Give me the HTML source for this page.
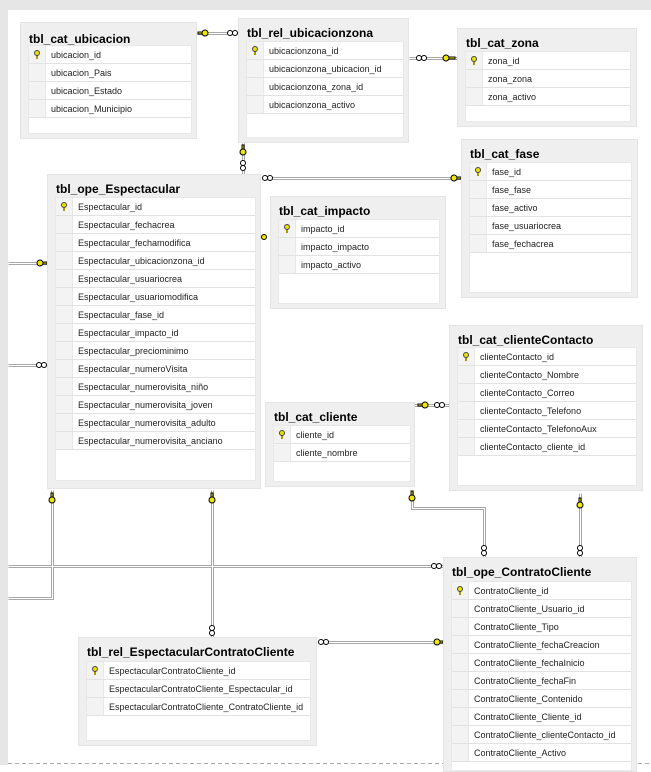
<!DOCTYPE html>
<html><head><meta charset="utf-8"><style>
body{margin:0;width:651px;height:765px;overflow:hidden;background:#fff;font-family:"Liberation Sans",sans-serif;position:relative}
.bg{position:absolute;left:0;top:0;width:651px;height:765px;background:#fff}
.lstrip{position:absolute;left:0;top:0;width:8px;height:765px;background:#e6e6e6}
.tstrip{position:absolute;left:0;top:0;width:651px;height:10px;background:#e6e6e6}
.t{position:absolute;background:#efefef;border:1px solid #e4e4e4;box-sizing:border-box}
.t .h{position:absolute;left:8px;top:7px;font-weight:bold;font-size:12px;color:#000;white-space:nowrap}
.t .in{position:absolute;background:#fff;border:1px solid #e8e8e8;box-sizing:border-box}
.r{height:18px;border-bottom:1px solid #e2e2e2;box-sizing:border-box;display:flex;align-items:center;font-size:9px;color:#222;white-space:nowrap}
.r .k{width:16px;height:17px;background:#f3f3f3;border-right:1px solid #e8e8e8;margin-right:5px;flex:none;position:relative}
.r .k.y::after{content:"";position:absolute;left:5px;top:4px;width:4px;height:4px;border:1px solid #444;border-radius:50%;background:#e8e000}
.r .k.y::before{content:"";position:absolute;left:7px;top:9px;width:2px;height:4px;background:#a89a00}
</style></head><body>
<div class="bg"></div><div class="lstrip"></div><div class="tstrip"></div>
<svg width="651" height="765" style="position:absolute;left:0;top:0">
<g transform="translate(0.5,0.5)">
<g fill="none" stroke="#a8a8a8" stroke-width="3">
<path d="M197 33H238"/><path d="M243 143V174"/><path d="M262 178H461"/><path d="M409 58H457"/>
<path d="M8 263H47"/><path d="M8 365H47"/>
<path d="M52 490V598H8"/><path d="M212 490V637"/>
<path d="M8 566H443"/><path d="M319 642H443"/>
<path d="M410 405H449"/><path d="M412 490V508H484V557"/><path d="M580 493V557"/>
</g>
<g fill="none" stroke="#fff" stroke-width="1">
<path d="M197 33H238"/><path d="M243 143V174"/><path d="M262 178H461"/><path d="M409 58H457"/>
<path d="M8 263H47"/><path d="M8 365H47"/>
<path d="M52 490V598H8"/><path d="M212 490V637"/>
<path d="M8 566H443"/><path d="M319 642H443"/>
<path d="M410 405H449"/><path d="M412 490V508H484V557"/><path d="M580 493V557"/>
</g>
</g>
<g fill="#f0e800" stroke="#000" stroke-width="1">
<circle cx="205" cy="33" r="3"/><rect x="198" y="32" width="4" height="2"/>
<circle cx="243" cy="152" r="3"/><rect x="242" y="145" width="2" height="4"/>
<circle cx="454" cy="178" r="3"/><rect x="457" y="177" width="4" height="2"/>
<circle cx="446" cy="58" r="3"/><rect x="449" y="57" width="6" height="2"/>
<circle cx="40" cy="263" r="3"/><rect x="43" y="262" width="4" height="2"/>
<circle cx="264" cy="237" r="2.5"/>
<circle cx="52" cy="500" r="3"/><rect x="51" y="493" width="2" height="4"/>
<circle cx="212" cy="500" r="3"/><rect x="211" y="493" width="2" height="4"/>
<circle cx="437" cy="642" r="3"/><rect x="440" y="641" width="3" height="2"/>
<circle cx="425" cy="405" r="3"/><rect x="418" y="404" width="4" height="2"/>
<circle cx="412" cy="498" r="3"/><rect x="411" y="491" width="2" height="4"/>
<circle cx="580" cy="505" r="3"/><rect x="579" y="498" width="2" height="4"/>
</g>
<g fill="#fff" stroke="#000" stroke-width="1">
<circle cx="230" cy="33" r="2.5"/><circle cx="235" cy="33" r="2.5"/>
<circle cx="243" cy="163" r="2.5"/><circle cx="243" cy="168" r="2.5"/>
<circle cx="265" cy="178" r="2.5"/><circle cx="270" cy="178" r="2.5"/>
<circle cx="419" cy="58" r="2.5"/><circle cx="424" cy="58" r="2.5"/>
<circle cx="39" cy="365" r="2.5"/><circle cx="44" cy="365" r="2.5"/>
<circle cx="212" cy="628" r="2.5"/><circle cx="212" cy="633" r="2.5"/>
<circle cx="434" cy="566" r="2.5"/><circle cx="439" cy="566" r="2.5"/>
<circle cx="321" cy="642" r="2.5"/><circle cx="326" cy="642" r="2.5"/>
<circle cx="437" cy="405" r="2.5"/><circle cx="442" cy="405" r="2.5"/>
<circle cx="484" cy="548" r="2.5"/><circle cx="484" cy="553" r="2.5"/>
<circle cx="580" cy="548" r="2.5"/><circle cx="580" cy="553" r="2.5"/>
</g>
<path d="M8 763.5H651" stroke="#aaa" stroke-dasharray="4 3"/>
</svg>

<div class="t" style="left:20px;top:22px;width:177px;height:117px"><div class="h" style="top:9px">tbl_cat_ubicacion</div>
<div class="in" style="left:7px;top:22px;width:164px;height:89px">
<div class="r"><span class="k y"></span>ubicacion_id</div><div class="r"><span class="k"></span>ubicacion_Pais</div><div class="r"><span class="k"></span>ubicacion_Estado</div><div class="r"><span class="k"></span>ubicacion_Municipio</div></div></div>

<div class="t" style="left:238px;top:18px;width:171px;height:125px"><div class="h">tbl_rel_ubicacionzona</div>
<div class="in" style="left:7px;top:22px;width:158px;height:97px">
<div class="r"><span class="k y"></span>ubicacionzona_id</div><div class="r"><span class="k"></span>ubicacionzona_ubicacion_id</div><div class="r"><span class="k"></span>ubicacionzona_zona_id</div><div class="r"><span class="k"></span>ubicacionzona_activo</div></div></div>

<div class="t" style="left:457px;top:28px;width:180px;height:99px"><div class="h">tbl_cat_zona</div>
<div class="in" style="left:7px;top:22px;width:166px;height:71px">
<div class="r"><span class="k y"></span>zona_id</div><div class="r"><span class="k"></span>zona_zona</div><div class="r"><span class="k"></span>zona_activo</div></div></div>

<div class="t" style="left:461px;top:139px;width:177px;height:159px"><div class="h">tbl_cat_fase</div>
<div class="in" style="left:7px;top:22px;width:163px;height:131px">
<div class="r"><span class="k y"></span>fase_id</div><div class="r"><span class="k"></span>fase_fase</div><div class="r"><span class="k"></span>fase_activo</div><div class="r"><span class="k"></span>fase_usuariocrea</div><div class="r"><span class="k"></span>fase_fechacrea</div></div></div>

<div class="t" style="left:47px;top:174px;width:214px;height:315px"><div class="h">tbl_ope_Espectacular</div>
<div class="in" style="left:7px;top:22px;width:201px;height:284px">
<div class="r"><span class="k y"></span>Espectacular_id</div><div class="r"><span class="k"></span>Espectacular_fechacrea</div><div class="r"><span class="k"></span>Espectacular_fechamodifica</div><div class="r"><span class="k"></span>Espectacular_ubicacionzona_id</div><div class="r"><span class="k"></span>Espectacular_usuariocrea</div><div class="r"><span class="k"></span>Espectacular_usuariomodifica</div><div class="r"><span class="k"></span>Espectacular_fase_id</div><div class="r"><span class="k"></span>Espectacular_impacto_id</div><div class="r"><span class="k"></span>Espectacular_preciominimo</div><div class="r"><span class="k"></span>Espectacular_numeroVisita</div><div class="r"><span class="k"></span>Espectacular_numerovisita_niño</div><div class="r"><span class="k"></span>Espectacular_numerovisita_joven</div><div class="r"><span class="k"></span>Espectacular_numerovisita_adulto</div><div class="r"><span class="k"></span>Espectacular_numerovisita_anciano</div></div></div>

<div class="t" style="left:270px;top:196px;width:176px;height:113px"><div class="h">tbl_cat_impacto</div>
<div class="in" style="left:7px;top:22px;width:162px;height:85px">
<div class="r"><span class="k y"></span>impacto_id</div><div class="r"><span class="k"></span>impacto_impacto</div><div class="r"><span class="k"></span>impacto_activo</div></div></div>

<div class="t" style="left:449px;top:325px;width:194px;height:166px"><div class="h">tbl_cat_clienteContacto</div>
<div class="in" style="left:7px;top:21px;width:180px;height:139px">
<div class="r"><span class="k y"></span>clienteContacto_id</div><div class="r"><span class="k"></span>clienteContacto_Nombre</div><div class="r"><span class="k"></span>clienteContacto_Correo</div><div class="r"><span class="k"></span>clienteContacto_Telefono</div><div class="r"><span class="k"></span>clienteContacto_TelefonoAux</div><div class="r"><span class="k"></span>clienteContacto_cliente_id</div></div></div>

<div class="t" style="left:265px;top:402px;width:150px;height:85px"><div class="h">tbl_cat_cliente</div>
<div class="in" style="left:7px;top:22px;width:138px;height:57px">
<div class="r"><span class="k y"></span>cliente_id</div><div class="r"><span class="k"></span>cliente_nombre</div></div></div>

<div class="t" style="left:443px;top:557px;width:194px;height:215px"><div class="h">tbl_ope_ContratoCliente</div>
<div class="in" style="left:7px;top:23px;width:181px;height:190px">
<div class="r"><span class="k y"></span>ContratoCliente_id</div><div class="r"><span class="k"></span>ContratoCliente_Usuario_id</div><div class="r"><span class="k"></span>ContratoCliente_Tipo</div><div class="r"><span class="k"></span>ContratoCliente_fechaCreacion</div><div class="r"><span class="k"></span>ContratoCliente_fechaInicio</div><div class="r"><span class="k"></span>ContratoCliente_fechaFin</div><div class="r"><span class="k"></span>ContratoCliente_Contenido</div><div class="r"><span class="k"></span>ContratoCliente_Cliente_id</div><div class="r"><span class="k"></span>ContratoCliente_clienteContacto_id</div><div class="r"><span class="k"></span>ContratoCliente_Activo</div></div></div>

<div class="t" style="left:78px;top:637px;width:239px;height:109px"><div class="h">tbl_rel_EspectacularContratoCliente</div>
<div class="in" style="left:7px;top:23px;width:225px;height:80px">
<div class="r"><span class="k y"></span>EspectacularContratoCliente_id</div><div class="r"><span class="k"></span>EspectacularContratoCliente_Espectacular_id</div><div class="r"><span class="k"></span>EspectacularContratoCliente_ContratoCliente_id</div></div></div>
</body></html>
